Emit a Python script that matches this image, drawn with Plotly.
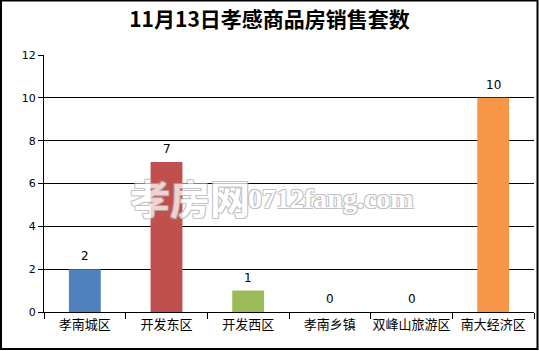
import plotly.graph_objects as go

categories = ["孝南城区", "开发东区", "开发西区", "孝南乡镇", "双峰山旅游区", "南大经济区"]
values = [2, 7, 1, 0, 0, 10]
colors = ["#4F81BD", "#C0504D", "#9BBB59", "#8064A2", "#4BACC6", "#F79646"]
title_text = "11月13日孝感商品房销售套数"
y_ticks = [0, 2, 4, 6, 8, 10, 12]

W, H = 539, 351
L, R, T, B = 44, 5, 55, 39
pw, ph = W - L - R, H - T - B

def px_x(p):
    return (p - L) / pw

def px_y(p):
    return (H - B - p) / ph

fig = go.Figure()
fig.add_trace(go.Bar(
    x=categories, y=values, marker=dict(color=colors, line=dict(width=0)),
    width=0.39, showlegend=False, hoverinfo="skip",
))

annotations = []
for c, v in zip(categories, values):
    annotations.append(dict(
        x=c, y=v, xref="x", yref="y", text=str(v), showarrow=False,
        yanchor="middle", yshift=13,
        font=dict(family="DejaVu Sans, Noto Sans CJK SC", size=12, color="#000000"),
    ))

shadow = "1px 1px 0 #b0b0b0, -1px -1px 0 #b0b0b0, 1px -1px 0 #b0b0b0, -1px 1px 0 #b0b0b0"
annotations.append(dict(
    x=px_x(190), y=px_y(197), xref="paper", yref="paper", text="孝房网",
    showarrow=False, xanchor="center", yanchor="middle", opacity=0.75,
    font=dict(family="Noto Sans CJK SC", size=40, color="#FFFFFF",
              weight="bold", shadow=shadow),
))
annotations.append(dict(
    x=px_x(331), y=px_y(198), xref="paper", yref="paper", text="0712fang.com",
    showarrow=False, xanchor="center", yanchor="middle", opacity=0.75,
    font=dict(family="Liberation Serif", size=28, color="#FFFFFF",
              weight="bold", shadow=shadow),
))

fig.update_layout(
    width=W, height=H,
    margin=dict(l=L, r=R, t=T, b=B, pad=0, autoexpand=False),
    paper_bgcolor="#FFFFFF", plot_bgcolor="#FFFFFF",
    title=dict(text=title_text, x=0.5, xanchor="center", y=1 - 20 / H, yanchor="middle",
               font=dict(family="Noto Sans CJK SC", size=21, color="#000000", weight="bold")),
    bargap=0.61,
    annotations=annotations,
    shapes=[dict(type="rect", xref="paper", yref="paper",
                 x0=px_x(1), x1=px_x(537.5), y0=px_y(349), y1=px_y(0.5),
                 line=dict(color="#000000", width=2), fillcolor="rgba(0,0,0,0)", layer="above")],
)
fig.update_xaxes(
    showline=True, linecolor="#000000", linewidth=1,
    ticks="outside", ticklen=6, tickcolor="#000000", tickson="boundaries",
    tickangle=0, automargin=False,
    showgrid=False, tickfont=dict(family="Noto Sans CJK SC", size=13, color="#000000"),
    fixedrange=True,
)
fig.update_yaxes(
    range=[0, 12], tickvals=y_ticks, showline=True, linecolor="#000000", linewidth=1,
    ticks="outside", ticklen=5, tickcolor="#000000", automargin=False,
    showgrid=True, gridcolor="#000000", gridwidth=1, zeroline=False,
    tickfont=dict(family="DejaVu Sans", size=11, color="#000000"),
    fixedrange=True,
)

fig.write_html("out.html", config={"displayModeBar": False})
